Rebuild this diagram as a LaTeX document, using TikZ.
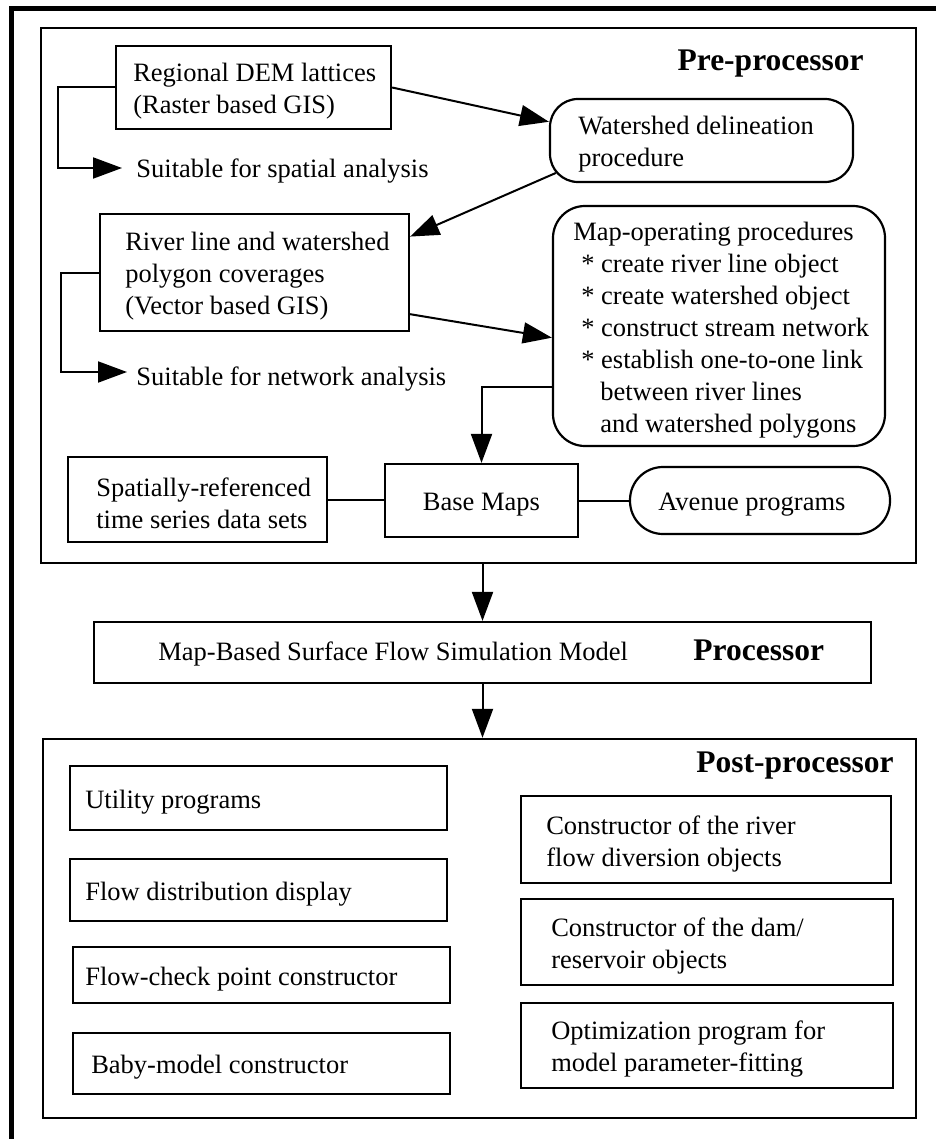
\documentclass[tikz,border=0pt]{standalone}
\usepackage{fontspec}
\setmainfont{Liberation Serif}
\usetikzlibrary{arrows.meta,fit,positioning}

\tikzset{
  frame/.style={line width=2.75pt},
  group/.style={draw, line width=1.2pt, inner sep=0pt},
  box/.style={draw, line width=1.1pt, inner sep=0pt},
  rbox/.style={box, rounded corners=16pt},
  txt/.style={inner sep=0pt, align=left, font=\fontsize{13.25}{16}\selectfont},
  intxt/.style={txt, yshift=-2pt},
  title/.style={inner sep=0pt, font=\fontsize{15.75}{19}\selectfont\bfseries},
  link/.style={line width=1pt},
  arr/.style={link, -{Triangle[length=14.5pt,width=10.5pt]}},
}

\begin{document}
\begin{tikzpicture}[x=0.5pt,y=-0.5pt]
        \useasboundingbox (0,0) rectangle (936,1139);
        % Outer frame (top and left edge only)
        \draw[frame] (936,8.5) -- (11.5,8.5) -- (11.5,1139);

        % Pre-processor
        \node[group, fit={(41,28) (916,563)}] (pre) {};
        \node[title, anchor=base east] (pre-t) at (864,71) {Pre-processor};

        \node[box, fit={(116,46) (391,129)}] (rdem) {};
        \node[intxt, right=9pt of rdem.west] (rdem-t) {Regional DEM lattices\\(Raster based GIS)};
        \node[txt, anchor=west] (spatial) at (136,171) {Suitable for spatial analysis};
        \coordinate (spatial-in) at (122,168);
        \draw[arr] (rdem.west) -- ++(-57,0) |- (spatial-in);

        \node[rbox, rounded corners=14pt, fit={(550,99) (853,182)}] (wsd) {};
        \node[intxt, right=14.5pt of wsd.west] (wsd-t) {Watershed delineation\\procedure};
        \draw[arr] (rdem.east) -- (wsd.173);

        \node[box, fit={(100,214) (409,331)}] (river) {};
        \node[intxt, right=13pt of river.west] (river-t) {River line and watershed\\polygon coverages\\(Vector based GIS)};
        \draw[arr] ([xshift=3.5pt]wsd.192) -- (river.13);
        \node[txt, anchor=west] (network) at (136,379) {Suitable for network analysis};
        \coordinate (network-in) at (127,372);
        \draw[arr] (river.west) -- ++(-38,0) |- (network-in);

        \node[rbox, fit={(553,206) (885,446)}] (mapop) {};
        \node[intxt, right=10.5pt of mapop.west] (mapop-t) {Map-operating procedures\\
          \hspace*{4pt}* create river line object\\
          \hspace*{4pt}* create watershed object\\
          \hspace*{4pt}* construct stream network\\
          \hspace*{4pt}* establish one-to-one link\\
          \hspace*{13.5pt}between river lines\\
          \hspace*{13.5pt}and watershed polygons};
        \draw[arr] (river.-15) -- (mapop.184);

        \node[box, fit={(385,464) (578,537)}] (base) {};
        \node[intxt] (base-t) at (base) {Base Maps};
        \node[box, fit={(68,457) (327,542)}] (tsd) {};
        \node[intxt, right=14.5pt of tsd.west] (tsd-t) {Spatially-referenced\\time series data sets};
        \node[rbox, rounded corners=16.5pt, fit={(630,467) (890,534)}] (avenue) {};
        \node[intxt, right=14.5pt of avenue.west] (avenue-t) {Avenue programs};
        \draw[arr] (mapop.200) -| (base.north);
        \draw[link] (tsd.east) -- (tsd.east -| base.west);
        \draw[link] (base.east) -- (avenue.west);

        % Processor
        \node[box, fit={(94,622) (871,683)}] (proc) {};
        \draw[arr] (proc.north |- pre.south) -- (proc.north);
        \node[txt, anchor=base west] (proc-t) at (158,660) {Map-Based Surface Flow Simulation Model};
        \node[title, anchor=base west] (proc-title) at (693,660) {Processor};

        % Post-processor
        \node[group, fit={(43,739) (916,1118)}] (post) {};
        \draw[arr] (proc.south) -- (proc.south |- post.north);
        \node[title, anchor=base east] (post-t) at (894,772) {Post-processor};

        \node[box, fit={(70,766) (447,830)}] (util) {};
        \node[intxt, right=8pt of util.west] (util-t) {Utility programs};
        \node[box, fit={(70,859) (447,921)}] (flowd) {};
        \node[intxt, right=8pt of flowd.west] (flowd-t) {Flow distribution display};
        \node[box, fit={(73,947) (450,1003)}] (flowc) {};
        \node[intxt, right=6.5pt of flowc.west] (flowc-t) {Flow-check point constructor};
        \node[box, fit={(73,1033) (450,1094)}] (baby) {};
        \node[intxt, right=9.5pt of baby.west] (baby-t) {Baby-model constructor};

        \node[box, fit={(521,796) (891,883)}] (rdiv) {};
        \node[intxt, right=13pt of rdiv.west] (rdiv-t) {Constructor of the river\\flow diversion objects};
        \node[box, fit={(521,899) (893,985)}] (dam) {};
        \node[intxt, right=15.5pt of dam.west] (dam-t) {Constructor of the dam/\\reservoir objects};
        \node[box, fit={(521,1003) (893,1088)}] (optim) {};
        \node[intxt, right=15.5pt of optim.west] (optim-t) {Optimization program for\\model parameter-fitting};
\end{tikzpicture}
\end{document}
